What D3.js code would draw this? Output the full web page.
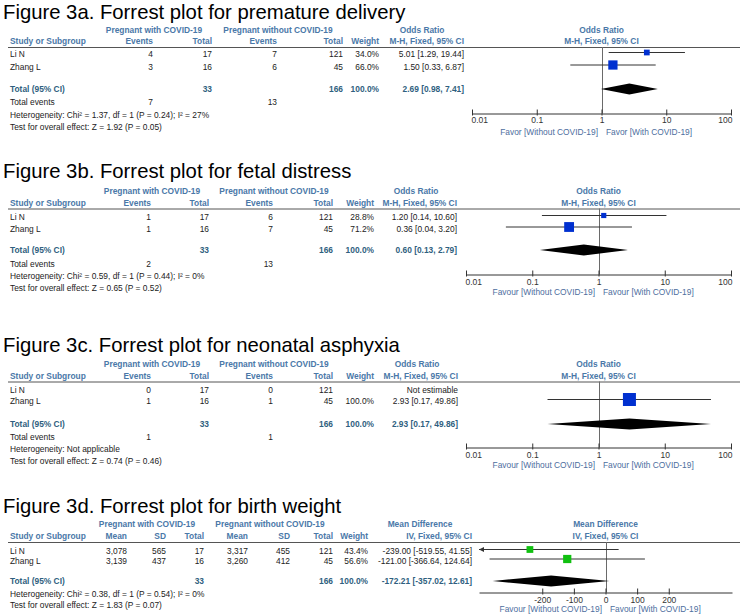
<!DOCTYPE html>
<html><head><meta charset="utf-8">
<script src="https://cdn.jsdelivr.net/npm/d3@7"></script>
<style>
body{margin:0;background:#fff;}
svg{display:block;font-family:"Liberation Sans",Arial,Helvetica,sans-serif;}
.title{font-size:20.3px;fill:#000;}
.hd{font-size:8.4px;font-weight:bold;fill:#4a78a8;}
.tb{font-size:8.4px;fill:#222;}
.tot{font-size:8.4px;font-weight:bold;fill:#2f5f80;}
.tk{font-size:8.5px;fill:#333;}
.lg{font-size:8.4px;fill:#4d6e9e;}
</style></head><body><svg id="c" width="740" height="615"></svg>
<script>
// ================= DATA =================
const titles = [
  "Figure 3a. Forrest plot for premature delivery",
  "Figure 3b. Forrest plot for fetal distress",
  "Figure 3c. Forrest plot for neonatal asphyxia",
  "Figure 3d. Forrest plot for birth weight"
];
const studies = ["Li N", "Zhang L"];
const groupLabels = ["Pregnant with COVID-19", "Pregnant without COVID-19"];

// 3a premature delivery
const aWithEvents = [4, 3];
const aWithTotal = [17, 16];
const aWithoutEvents = [7, 6];
const aWithoutTotal = [121, 45];
const aWeight = [34.0, 66.0];
const aOR = [5.01, 1.50];
const aLower = [1.29, 0.33];
const aUpper = [19.44, 6.87];
const aPooled = [2.69, 0.98, 7.41];
const aTotals = [33, 166];
const aTotalEvents = [7, 13];
const aHet = "Heterogeneity: Chi² = 1.37, df = 1 (P = 0.24); I² = 27%";
const aTest = "Test for overall effect: Z = 1.92 (P = 0.05)";
const aLegend = ["Favor [Without COVID-19]", "Favor [With COVID-19]"];

// 3b fetal distress
const bWithEvents = [1, 1];
const bWithTotal = [17, 16];
const bWithoutEvents = [6, 7];
const bWithoutTotal = [121, 45];
const bWeight = [28.8, 71.2];
const bOR = [1.20, 0.36];
const bLower = [0.14, 0.04];
const bUpper = [10.60, 3.20];
const bPooled = [0.60, 0.13, 2.79];
const bTotals = [33, 166];
const bTotalEvents = [2, 13];
const bHet = "Heterogeneity: Chi² = 0.59, df = 1 (P = 0.44); I² = 0%";
const bTest = "Test for overall effect: Z = 0.65 (P = 0.52)";
const favourLegend = ["Favour [Without COVID-19]", "Favour [With COVID-19]"];

// 3c neonatal asphyxia (Li N not estimable)
const cWithEvents = [0, 1];
const cWithTotal = [17, 16];
const cWithoutEvents = [0, 1];
const cWithoutTotal = [121, 45];
const cWeight = [null, 100.0];
const cOR = [null, 2.93];
const cLower = [null, 0.17];
const cUpper = [null, 49.86];
const cPooled = [2.93, 0.17, 49.86];
const cTotals = [33, 166];
const cTotalEvents = [1, 1];
const cHet = "Heterogeneity: Not applicable";
const cTest = "Test for overall effect: Z = 0.74 (P = 0.46)";

// 3d birth weight
const dWithMean = [3078, 3139];
const dWithSD = [565, 437];
const dWithTotal = [17, 16];
const dWithoutMean = [3317, 3260];
const dWithoutSD = [455, 412];
const dWithoutTotal = [121, 45];
const dWeight = [43.4, 56.6];
const dMD = [-239.00, -121.00];
const dLower = [-519.55, -366.64];
const dUpper = [41.55, 124.64];
const dPooled = [-172.21, -357.02, 12.61];
const dTotals = [33, 166];
const dHet = "Heterogeneity: Chi² = 0.38, df = 1 (P = 0.54); I² = 0%";
const dTest = "Test for overall effect: Z = 1.83 (P = 0.07)";

// axes
const orDomain = [0.01, 100];
const orTicks = [0.01, 0.1, 1, 10, 100];
const orTickLabels = ["0.01", "0.1", "1", "10", "100"];
const mdDomain = [-400, 400];
const mdTicks = [-200, -100, 0, 100, 200];
const mdTickLabels = ["-200", "-100", "0", "100", "200"];

// ================= DRAWING =================
const svg = d3.select("#c");
svg.append("rect").attr("width", 740).attr("height", 615).attr("fill", "#fff");

function T(g, x, y, s, cls, anchor) {
  return g.append("text").attr("x", x).attr("y", y).attr("class", cls)
    .attr("text-anchor", anchor || "start").text(s);
}
const f2 = v => v.toFixed(2);
const fw = v => v.toFixed(1) + "%";
const fci = (e, l, u) => `${f2(e)} [${f2(l)}, ${f2(u)}]`;
const sizeScale = d3.scaleLinear().domain([0, 100]).range([2, 13]);

function drawForest(g, L, x, nullV, ticks, tickLabels, endAnchors, est, lo, hi, wt, pooled, legend, color) {
  const dom = x.domain();
  g.append("line").attr("x1", Math.round(x(nullV)) + 0.5).attr("x2", Math.round(x(nullV)) + 0.5)
    .attr("y1", L.lineY).attr("y2", L.axisY).attr("stroke", "#6a6a6a").attr("stroke-width", 1);
  const axis = d3.axisBottom(x).tickValues(ticks).tickFormat((d, i) => tickLabels[i])
    .tickSizeOuter(0).tickSizeInner(3);
  const ag = g.append("g").attr("transform", `translate(0,${L.axisY})`).call(axis)
    .attr("font-size", null).attr("font-family", null);
  ag.select(".domain").attr("stroke", "#333");
  ag.selectAll(".tick line").attr("stroke", "#333").attr("y1", -4).attr("y2", 2);
  const tt = ag.selectAll(".tick text").attr("class", "tk").attr("y", L.tickY - L.axisY).attr("dy", null);
  if (endAnchors) {
    tt.filter((d, i) => i === 0).attr("text-anchor", "start").attr("x", -1);
    tt.filter((d, i) => i === ticks.length - 1).attr("text-anchor", "end").attr("x", 1);
  }
  T(g, x(nullV) - 3.5, L.legY, legend[0], "lg", "end");
  T(g, x(nullV) + 4.5, L.legY, legend[1], "lg", "start");
  est.forEach((e, i) => {
    if (e == null) return;
    const y = L.rowY[i] - 4.5;
    const l = Math.max(lo[i], dom[0]), h = Math.min(hi[i], dom[1]);
    g.append("line").attr("x1", x(l)).attr("x2", x(h)).attr("y1", y).attr("y2", y)
      .attr("stroke", "#333").attr("stroke-width", 1);
    if (lo[i] < dom[0]) {
      const x0 = x(dom[0]);
      g.append("path").attr("d", `M${x0},${y}L${x0 + 5},${y - 2.5}L${x0 + 5},${y + 2.5}Z`).attr("fill", "#333");
    }
    if (hi[i] > dom[1]) {
      const x1 = x(dom[1]);
      g.append("path").attr("d", `M${x1},${y}L${x1 - 5},${y - 2.5}L${x1 - 5},${y + 2.5}Z`).attr("fill", "#333");
    }
    const s = sizeScale(wt[i]);
    g.append("rect").attr("x", x(e) - s / 2).attr("y", y - s / 2).attr("width", s).attr("height", s)
      .attr("fill", color);
  });
  const yd = L.totalY - 3, hd = 5.5;
  g.append("path").attr("d",
    `M${x(pooled[1])},${yd}L${x(pooled[0])},${yd - hd}L${x(pooled[2])},${yd}L${x(pooled[0])},${yd + hd}Z`)
    .attr("fill", "#000");
}

function orPanel(title, we, wt, woe, wot, weight, est, lo, hi, pooled, totals, totEv, het, test, legend, L) {
  const g = svg.append("g");
  T(g, 3, L.titleY, title, "title");
  T(g, L.cGW, L.h1Y, groupLabels[0], "hd", "middle");
  T(g, L.cGWo, L.h1Y, groupLabels[1], "hd", "middle");
  T(g, L.cOR, L.h1Y, "Odds Ratio", "hd", "middle");
  T(g, 10, L.h2Y, "Study or Subgroup", "hd");
  T(g, L.cEvW, L.h2Y, "Events", "hd", "end");
  T(g, L.cTotW, L.h2Y, "Total", "hd", "end");
  T(g, L.cEvWo, L.h2Y, "Events", "hd", "end");
  T(g, L.cTotWo, L.h2Y, "Total", "hd", "end");
  T(g, L.cWeight, L.h2Y, "Weight", "hd", "end");
  T(g, L.cCI, L.h2Y, "M-H, Fixed, 95% CI", "hd", "end");
  g.append("line").attr("x1", 8).attr("x2", 740).attr("y1", L.lineY + 0.5).attr("y2", L.lineY + 0.5)
    .attr("stroke", "#555");
  studies.forEach((s, i) => {
    const y = L.rowY[i];
    T(g, 10, y, s, "tb");
    T(g, L.cEvW, y, we[i], "tb", "end");
    T(g, L.cTotW, y, wt[i], "tb", "end");
    T(g, L.cEvWo, y, woe[i], "tb", "end");
    T(g, L.cTotWo, y, wot[i], "tb", "end");
    if (weight[i] != null) T(g, L.cWeight, y, fw(weight[i]), "tb", "end");
    T(g, L.cCI, y, est[i] == null ? "Not estimable" : fci(est[i], lo[i], hi[i]), "tb", "end");
  });
  T(g, 10, L.totalY, "Total (95% CI)", "tot");
  T(g, L.cTotW, L.totalY, totals[0], "tot", "end");
  T(g, L.cTotWo, L.totalY, totals[1], "tot", "end");
  T(g, L.cWeight, L.totalY, fw(d3.sum(weight.filter(w => w != null))), "tot", "end");
  T(g, L.cCI, L.totalY, fci(pooled[0], pooled[1], pooled[2]), "tot", "end");
  T(g, 10, L.evY, "Total events", "tb");
  T(g, L.cEvW, L.evY, totEv[0], "tb", "end");
  T(g, L.cEvWo, L.evY, totEv[1], "tb", "end");
  T(g, 10, L.hetY, het, "tb");
  T(g, 10, L.testY, test, "tb");
  const x = d3.scaleLog().domain(orDomain).range(L.xRange);
  T(g, x(1), L.h1Y, "Odds Ratio", "hd", "middle");
  T(g, x(1), L.h2Y, "M-H, Fixed, 95% CI", "hd", "middle");
  drawForest(g, L, x, 1, orTicks, orTickLabels, true, est, lo, hi, weight, pooled, legend, "#0030d0");
}

orPanel(titles[0], aWithEvents, aWithTotal, aWithoutEvents, aWithoutTotal, aWeight, aOR, aLower, aUpper,
  aPooled, aTotals, aTotalEvents, aHet, aTest, aLegend,
  {titleY: 18.5, h1Y: 33, h2Y: 44, lineY: 47, rowY: [57, 69.5], totalY: 92, evY: 105, hetY: 117.5, testY: 130,
   cEvW: 153, cTotW: 212, cEvWo: 277, cTotWo: 343, cWeight: 379, cCI: 464, cGW: 154, cGWo: 278, cOR: 422,
   xRange: [472, 731], axisY: 113.5, tickY: 123, legY: 135});

orPanel(titles[1], bWithEvents, bWithTotal, bWithoutEvents, bWithoutTotal, bWeight, bOR, bLower, bUpper,
  bPooled, bTotals, bTotalEvents, bHet, bTest, favourLegend,
  {titleY: 178, h1Y: 194, h2Y: 206, lineY: 208.5, rowY: [220, 231.5], totalY: 253, evY: 267, hetY: 279, testY: 291,
   cEvW: 151, cTotW: 209, cEvWo: 273, cTotWo: 333, cWeight: 374, cCI: 457, cGW: 152, cGWo: 274, cOR: 416,
   xRange: [466, 731], axisY: 274.5, tickY: 284.5, legY: 294.5});

orPanel(titles[2], cWithEvents, cWithTotal, cWithoutEvents, cWithoutTotal, cWeight, cOR, cLower, cUpper,
  cPooled, cTotals, cTotalEvents, cHet, cTest, favourLegend,
  {titleY: 352, h1Y: 367, h2Y: 379, lineY: 381.5, rowY: [393, 404], totalY: 427, evY: 440, hetY: 452, testY: 464,
   cEvW: 151, cTotW: 209, cEvWo: 273, cTotWo: 333, cWeight: 374, cCI: 458, cGW: 152, cGWo: 274, cOR: 417,
   xRange: [466, 731], axisY: 447.5, tickY: 458, legY: 467.5});

// 3d mean difference panel
(function () {
  const L = {titleY: 513, h1Y: 527, h2Y: 539, lineY: 542, rowY: [554, 563.5], totalY: 584, hetY: 597, testY: 608,
    cM1: 127, cSD1: 166, cT1: 204, cM2: 248, cSD2: 290, cT2: 333, cWeight: 368, cCI: 472,
    cGW: 147, cGWo: 270, cMD: 420, xRange: [479, 732], axisY: 592.5, tickY: 603, legY: 612};
  const g = svg.append("g");
  const fc = d3.format(",");
  T(g, 3, L.titleY, titles[3], "title");
  T(g, L.cGW, L.h1Y, groupLabels[0], "hd", "middle");
  T(g, L.cGWo, L.h1Y, groupLabels[1], "hd", "middle");
  T(g, L.cMD, L.h1Y, "Mean Difference", "hd", "middle");
  T(g, 10, L.h2Y, "Study or Subgroup", "hd");
  [[L.cM1, "Mean"], [L.cSD1, "SD"], [L.cT1, "Total"], [L.cM2, "Mean"], [L.cSD2, "SD"], [L.cT2, "Total"],
   [L.cWeight, "Weight"], [L.cCI, "IV, Fixed, 95% CI"]].forEach(([cx, s]) => T(g, cx, L.h2Y, s, "hd", "end"));
  g.append("line").attr("x1", 8).attr("x2", 740).attr("y1", L.lineY + 0.5).attr("y2", L.lineY + 0.5)
    .attr("stroke", "#555");
  studies.forEach((s, i) => {
    const y = L.rowY[i];
    T(g, 10, y, s, "tb");
    T(g, L.cM1, y, fc(dWithMean[i]), "tb", "end");
    T(g, L.cSD1, y, dWithSD[i], "tb", "end");
    T(g, L.cT1, y, dWithTotal[i], "tb", "end");
    T(g, L.cM2, y, fc(dWithoutMean[i]), "tb", "end");
    T(g, L.cSD2, y, dWithoutSD[i], "tb", "end");
    T(g, L.cT2, y, dWithoutTotal[i], "tb", "end");
    T(g, L.cWeight, y, fw(dWeight[i]), "tb", "end");
    T(g, L.cCI, y, fci(dMD[i], dLower[i], dUpper[i]), "tb", "end");
  });
  T(g, 10, L.totalY, "Total (95% CI)", "tot");
  T(g, L.cT1, L.totalY, dTotals[0], "tot", "end");
  T(g, L.cT2, L.totalY, dTotals[1], "tot", "end");
  T(g, L.cWeight, L.totalY, fw(d3.sum(dWeight)), "tot", "end");
  T(g, L.cCI, L.totalY, fci(dPooled[0], dPooled[1], dPooled[2]), "tot", "end");
  T(g, 10, L.hetY, dHet, "tb");
  T(g, 10, L.testY, dTest, "tb");
  const x = d3.scaleLinear().domain(mdDomain).range(L.xRange);
  T(g, x(0), L.h1Y, "Mean Difference", "hd", "middle");
  T(g, x(0), L.h2Y, "IV, Fixed, 95% CI", "hd", "middle");
  drawForest(g, L, x, 0, mdTicks, mdTickLabels, false, dMD, dLower, dUpper, dWeight, dPooled, favourLegend, "#10c010");
})();
</script></body></html>
